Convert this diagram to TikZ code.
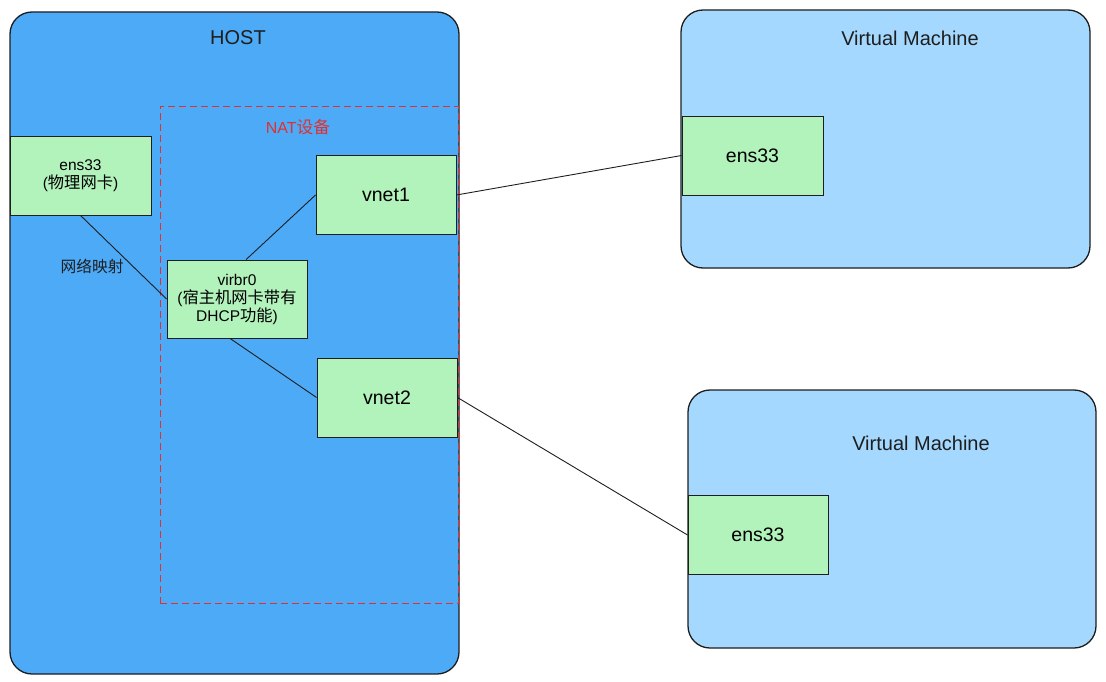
\documentclass[tikz,border=0pt]{standalone}
\usepackage{fontspec}
\setmainfont{Liberation Sans}
\newfontfamily\cjk[Scale=1.05]{Noto Sans CJK SC}
\usetikzlibrary{backgrounds}
\definecolor{hostfill}{HTML}{4DAAF7}
\definecolor{vmfill}{HTML}{A5D8FF}
\definecolor{nicfill}{HTML}{B2F2BB}
\definecolor{darkline}{HTML}{1E1E1E}
\definecolor{natred}{HTML}{E03131}
\tikzset{
  machine/.style={rectangle, rounded corners=22pt, draw=darkline, line width=1.3pt},
  nic/.style={rectangle, align=center, fill=nicfill, draw=darkline, line width=0.9pt, inner sep=0pt, minimum width=140pt, minimum height=79pt, font=\fontsize{15.5}{18}\selectfont},
  bignic/.style={nic, font=\fontsize{19.5}{23}\selectfont},
  natbox/.style={rectangle, draw=natred, dashed, dash pattern=on 7pt off 4pt, line width=0.9pt},
  link/.style={line width=0.9pt, draw=darkline},
  title/.style={font=\fontsize{20}{24}\selectfont, text=darkline}
}

\begin{document}
\begin{tikzpicture}[x=1pt, y=-1pt]
\useasboundingbox (0,0) rectangle (1106,682);

\begin{pgfonlayer}{background}
  \node[machine, fill=hostfill, minimum width=449pt, minimum height=662pt] (host) at (234.5, 343) {};
  \node[machine, fill=vmfill, minimum width=409pt, minimum height=258pt] (vm1) at (885.5, 139) {};
  \node[machine, fill=vmfill, minimum width=408pt, minimum height=258pt] (vm2) at (892, 519) {};
  \node[natbox, minimum width=298pt, minimum height=497pt] (nat) at (309, 354.5) {};
\end{pgfonlayer}

\node[title] (hosttitle) at (238, 38) {HOST};
\node[font=\fontsize{16}{19}\selectfont, text=natred] (nattitle) at (298, 127) {NAT{\cjk 设备}};
\node[title] (vm1title) at (910, 38) {Virtual Machine};
\node[title] (vm2title) at (921, 443) {Virtual Machine};

\node[nic, minimum width=141pt] (hostnic) at (80.5, 175.5) {ens33\\({\cjk 物理网卡})};
\node[nic, minimum height=78pt] (virbr) at (237, 299) {virbr0\\({\cjk 宿主机网卡带有}\\DHCP{\cjk 功能})};
\node[bignic] (vnetone) at (386, 195) {vnet1};
\node[bignic] (vnettwo) at (387, 397.5) {vnet2};
\node[bignic, minimum width=141pt] (vmnicone) at (752.5, 155.5) {ens33};
\node[bignic] (vmnictwo) at (758, 535) {ens33};

\node[font=\fontsize{15}{18}\selectfont, text=darkline] (maplabel) at (92, 266) {\cjk 网络映射};

\draw[link] (hostnic.south) -- (virbr.west);
\draw[link] (virbr.77) -- (vnetone.west);
\draw[link] (virbr.260) -- (vnettwo.west);
\draw[link] (vnetone.east) -- (vmnicone.west);
\draw[link] (vnettwo.east) -- (vmnictwo.west);

\end{tikzpicture}
\end{document}
